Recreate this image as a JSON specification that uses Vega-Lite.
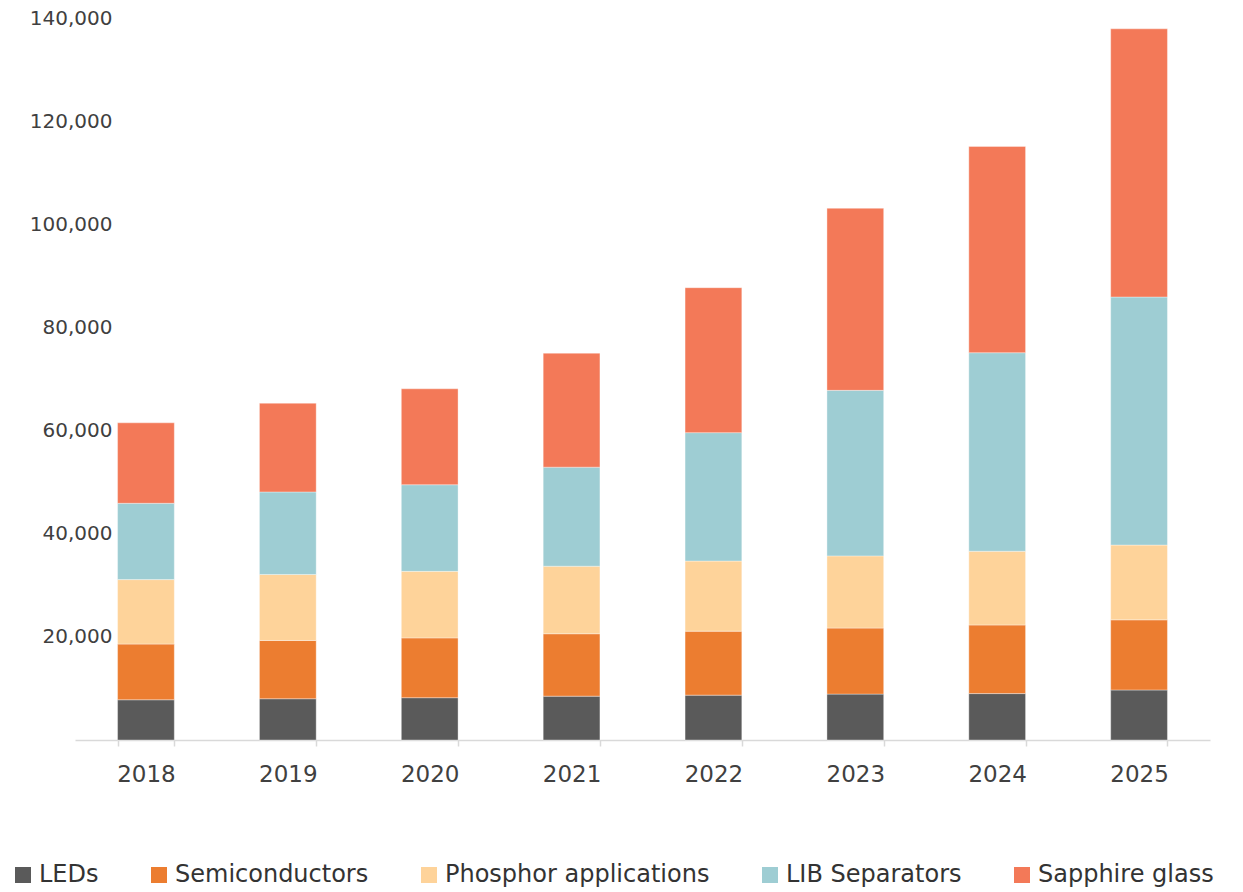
{
  "$schema": "https://vega.github.io/schema/vega-lite/v6.json",
  "width": 1135,
  "height": 722,
  "autosize": {"type": "none"},
  "padding": {"left": 75, "top": 18, "right": 33, "bottom": 152},
  "background": "white",
  "config": {"view": {"stroke": null}},
  "data": {"values": [
    {"year": "2018", "cat": "LEDs", "v": 7800},
    {"year": "2018", "cat": "Semiconductors", "v": 10800},
    {"year": "2018", "cat": "Phosphor applications", "v": 12500},
    {"year": "2018", "cat": "LIB Separators", "v": 14800},
    {"year": "2018", "cat": "Sapphire glass", "v": 15600},
    {"year": "2019", "cat": "LEDs", "v": 8000},
    {"year": "2019", "cat": "Semiconductors", "v": 11300},
    {"year": "2019", "cat": "Phosphor applications", "v": 12800},
    {"year": "2019", "cat": "LIB Separators", "v": 16000},
    {"year": "2019", "cat": "Sapphire glass", "v": 17200},
    {"year": "2020", "cat": "LEDs", "v": 8200},
    {"year": "2020", "cat": "Semiconductors", "v": 11600},
    {"year": "2020", "cat": "Phosphor applications", "v": 12900},
    {"year": "2020", "cat": "LIB Separators", "v": 16800},
    {"year": "2020", "cat": "Sapphire glass", "v": 18600},
    {"year": "2021", "cat": "LEDs", "v": 8500},
    {"year": "2021", "cat": "Semiconductors", "v": 12100},
    {"year": "2021", "cat": "Phosphor applications", "v": 13100},
    {"year": "2021", "cat": "LIB Separators", "v": 19200},
    {"year": "2021", "cat": "Sapphire glass", "v": 22100},
    {"year": "2022", "cat": "LEDs", "v": 8700},
    {"year": "2022", "cat": "Semiconductors", "v": 12400},
    {"year": "2022", "cat": "Phosphor applications", "v": 13600},
    {"year": "2022", "cat": "LIB Separators", "v": 24900},
    {"year": "2022", "cat": "Sapphire glass", "v": 28100},
    {"year": "2023", "cat": "LEDs", "v": 8900},
    {"year": "2023", "cat": "Semiconductors", "v": 12800},
    {"year": "2023", "cat": "Phosphor applications", "v": 14000},
    {"year": "2023", "cat": "LIB Separators", "v": 32100},
    {"year": "2023", "cat": "Sapphire glass", "v": 35300},
    {"year": "2024", "cat": "LEDs", "v": 9000},
    {"year": "2024", "cat": "Semiconductors", "v": 13300},
    {"year": "2024", "cat": "Phosphor applications", "v": 14300},
    {"year": "2024", "cat": "LIB Separators", "v": 38500},
    {"year": "2024", "cat": "Sapphire glass", "v": 40000},
    {"year": "2025", "cat": "LEDs", "v": 9700},
    {"year": "2025", "cat": "Semiconductors", "v": 13600},
    {"year": "2025", "cat": "Phosphor applications", "v": 14500},
    {"year": "2025", "cat": "LIB Separators", "v": 48100},
    {"year": "2025", "cat": "Sapphire glass", "v": 52000}
  ]},
  "transform": [
    {"calculate": "indexof(['LEDs','Semiconductors','Phosphor applications','LIB Separators','Sapphire glass'], datum.cat)", "as": "rank"}
  ],
  "mark": {"type": "bar", "stroke": "white", "strokeWidth": 0.6, "strokeOpacity": 0.6},
  "encoding": {
    "x": {
      "field": "year", "type": "nominal", "title": null,
      "scale": {"paddingInner": 0.6, "paddingOuter": 0.3},
      "axis": {
        "labelAngle": 0, "labelFont": "DejaVu Sans", "labelFontSize": 23, "labelColor": "#404040",
        "labelPadding": 17, "domainColor": "#d9d9d9", "domainWidth": 1.5,
        "tickColor": "#d9d9d9", "tickWidth": 1.5, "tickSize": 6, "tickBand": "extent", "grid": false
      }
    },
    "y": {
      "field": "v", "type": "quantitative", "stack": "zero", "title": null,
      "scale": {"domain": [0, 140000], "nice": false},
      "axis": {
        "values": [20000, 40000, 60000, 80000, 100000, 120000, 140000],
        "format": ",d", "domain": false, "ticks": false, "tickSize": 0, "grid": false,
        "labelFont": "DejaVu Sans", "labelFontSize": 20, "labelColor": "#404040",
        "labelPadding": -37
      }
    },
    "order": {"field": "rank", "type": "quantitative", "sort": "ascending"},
    "color": {
      "field": "cat", "type": "nominal",
      "scale": {
        "domain": ["LEDs", "Semiconductors", "Phosphor applications", "LIB Separators", "Sapphire glass"],
        "range": ["#5a5a5a", "#ec7d30", "#fed39a", "#9ecdd3", "#f37958"]
      },
      "legend": {
        "title": null, "orient": "none", "direction": "horizontal", "columns": 5,
        "legendX": -64, "legendY": 845,
        "symbolType": "square", "symbolSize": 256, "symbolStrokeWidth": 0,
        "labelFont": "DejaVu Sans", "labelFontSize": 24, "labelColor": "#333333",
        "labelOffset": 4, "labelLimit": 500, "columnPadding": 48
      }
    }
  }
}
